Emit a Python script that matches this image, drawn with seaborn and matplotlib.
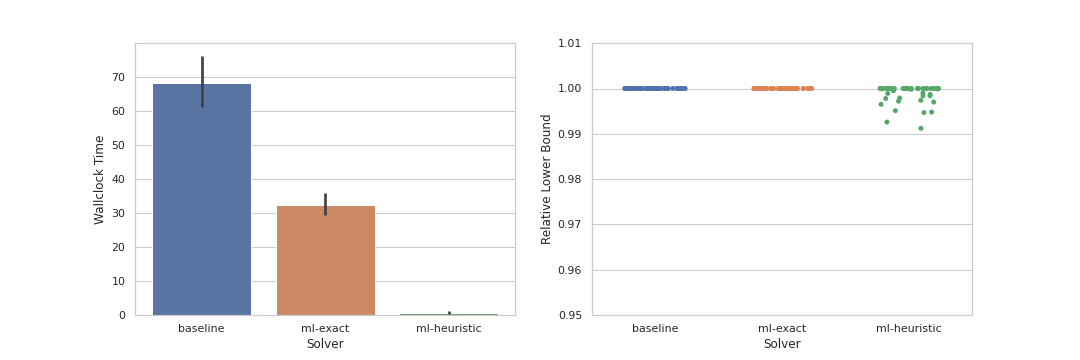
import numpy as np
import pandas as pd
import matplotlib
matplotlib.use('Agg')
import matplotlib.pyplot as plt
import seaborn as sns

solvers = ['baseline', 'ml-exact', 'ml-heuristic']

# Wallclock time: mean and 95% CI
time_mean = [68.0, 32.4, 0.7]
time_ci_low = [61.1, 29.4, 0.4]
time_ci_high = [76.0, 35.9, 1.2]

# Relative lower bound per instance (50 instances per solver)
lb_baseline = [1.0] * 50
lb_ml_exact = [1.0] * 50
lb_ml_heuristic = [1.0] * 30 + [
    0.9999, 0.9999, 0.9998, 0.9984, 0.9989, 0.9995, 0.9974, 0.9970, 0.9972, 0.9965,
    0.9948, 0.9951, 0.9947, 0.9926, 0.9912, 0.9987, 0.9984, 0.9979, 0.9990, 0.9978,
]

sns.set_theme(style='whitegrid')
palette = sns.color_palette('deep')

time_df = pd.DataFrame({'Solver': solvers, 'Wallclock Time': time_mean})
lb_df = pd.DataFrame({
    'Solver': ['baseline'] * len(lb_baseline) + ['ml-exact'] * len(lb_ml_exact)
              + ['ml-heuristic'] * len(lb_ml_heuristic),
    'Relative Lower Bound': lb_baseline + lb_ml_exact + lb_ml_heuristic,
})

fig, (ax1, ax2) = plt.subplots(1, 2, figsize=(15, 5))
fig.subplots_adjust(bottom=0.125, top=0.88)

sns.barplot(data=time_df, x='Solver', y='Wallclock Time', hue='Solver',
            palette=palette[:3], errorbar=None, legend=False, ax=ax1)
ax1.vlines(range(len(solvers)), time_ci_low, time_ci_high, color='.26', lw=2.7)
ax1.set_ylim(0, max(time_ci_high) * 1.05)

np.random.seed(3)
sns.stripplot(data=lb_df, x='Solver', y='Relative Lower Bound', hue='Solver',
              palette=palette[:3], jitter=0.25, legend=False, ax=ax2)
ax2.set_ylim(0.95, 1.01)

fig.savefig('out.png', dpi=72)
